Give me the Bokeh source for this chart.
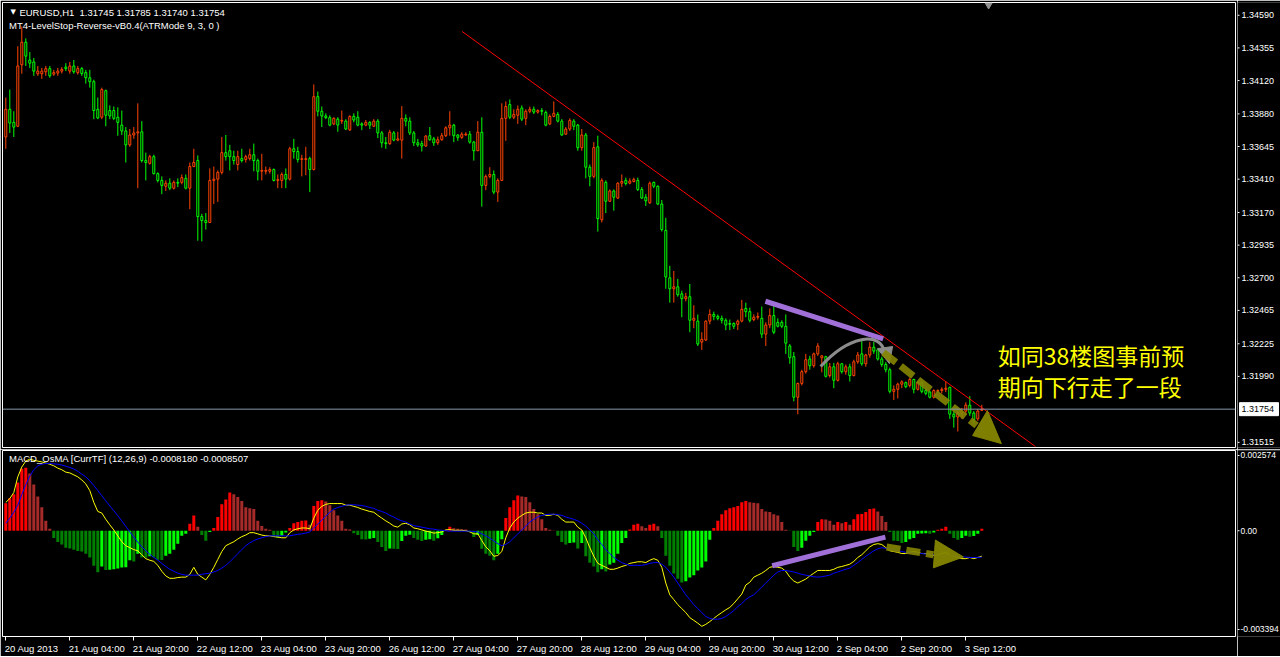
import numpy as np
from bokeh.plotting import figure
from bokeh.layouts import column, row
from bokeh.models import Range1d, FixedTicker, Span, ColumnDataSource, CustomJSTickFormatter
from bokeh.core.properties import value
from bokeh.embed import file_html
from bokeh.resources import INLINE

# ---------------- data (EURUSD H1, 20 Aug 2013 12:00 -> 3 Sep 16:00) ----------------
open_ = [
1.33714,1.33913,1.33819,1.33791,1.34234,1.34396,1.34268,1.34254,1.34169,1.34169,1.34183,1.34206,1.34166,1.34174,1.34188,1.34217,
1.34188,1.34225,1.34177,1.34206,1.34177,1.34140,1.34112,1.33913,1.33856,1.34047,1.33904,1.33904,1.33856,1.33799,1.33757,1.33657,
1.33728,1.33743,1.33751,1.33544,1.33524,1.33572,1.33450,1.33401,1.33359,1.33381,1.33345,1.33387,1.33387,1.33416,1.33345,1.33501,
1.33544,1.33141,1.33112,1.33098,1.33401,1.33410,1.33459,1.33601,1.33615,1.33572,1.33515,1.33558,1.33552,1.33558,
1.33586,1.33544,1.33467,1.33467,1.33467,1.33479,1.33401,1.33401,1.33444,1.33410,1.33629,1.33609,1.33552,1.33552,1.33558,1.33479,
1.34004,1.33899,1.33865,1.33853,1.33808,1.33842,1.33828,1.33828,1.33765,1.33862,1.33856,1.33808,1.33799,1.33819,1.33791,1.33828,
1.33743,1.33672,1.33666,1.33743,1.33691,1.33691,1.33848,1.33828,1.33743,1.33672,1.33666,1.33649,1.33723,1.33700,1.33672,1.33694,
1.33723,1.33780,1.33799,1.33728,1.33711,1.33728,1.33734,1.33677,1.33615,1.33748,1.33365,1.33430,1.33444,1.33317,
1.33401,1.33848,1.33947,1.33856,1.33870,1.33922,1.33848,1.33899,1.33913,1.33893,1.33904,1.33890,1.33808,1.33862,1.33876,1.33828,
1.33734,1.33771,1.33828,1.33799,1.33637,1.33728,1.33496,1.33430,1.33643,1.33118,1.33387,1.33251,1.33325,1.33274,1.33381,1.33401,
1.33381,1.33393,1.33401,1.33336,1.33280,1.33240,1.33387,1.33359,1.33231,1.33041,1.32700,1.32621,1.32635,1.32584,1.32550,1.32564,
1.32394,1.32388,1.32237,1.32252,1.32388,1.32436,1.32422,1.32408,1.32394,1.32371,1.32371,1.32365,1.32388,1.32479,1.32456,
1.32399,1.32416,1.32408,1.32294,1.32360,1.32428,1.32379,1.32379,1.32351,1.32209,1.32132,1.31840,1.31939,1.32024,1.32115,1.32067,
1.32152,1.32124,1.32132,1.31996,1.32059,1.31962,1.32081,1.32024,1.32059,1.31996,1.32095,1.32152,1.32081,1.32144,1.32200,1.32181,
1.32115,1.32076,1.32038,1.31882,1.31897,1.31934,1.31945,1.31925,1.31968,1.31897,1.31945,1.31888,1.31877,1.31840,1.31882,1.31888,
1.31897,1.31911,1.31718,1.31698,1.31718,1.31740,1.31783,1.31726,1.31684,1.31745]
high = [
1.33998,1.34055,1.33899,1.34367,1.34509,1.34424,1.34325,1.34282,1.34225,1.34211,1.34225,1.34225,1.34197,1.34211,1.34217,1.34245,
1.34254,1.34268,1.34225,1.34217,1.34197,1.34197,1.34126,1.33998,1.34069,1.34055,1.33941,1.33933,1.33927,1.33904,1.33785,1.33771,
1.33785,1.33956,1.33828,1.33601,1.33586,1.33586,1.33459,1.33430,1.33401,1.33416,1.33401,1.33416,1.33444,1.33444,1.33530,1.33629,
1.33581,1.33160,1.33166,1.33487,1.33501,1.33473,1.33714,1.33728,1.33657,1.33615,1.33615,1.33629,1.33586,1.33629,
1.33666,1.33558,1.33592,1.33501,1.33496,1.33487,1.33444,1.33459,1.33487,1.33643,1.33700,1.33643,1.33586,1.33643,1.33572,1.34092,
1.34041,1.33933,1.33884,1.33870,1.33856,1.33856,1.33904,1.33842,1.33870,1.33884,1.33899,1.33819,1.33836,1.33828,1.33842,1.33842,
1.33757,1.33714,1.33765,1.33757,1.33751,1.33936,1.33876,1.33856,1.33757,1.33700,1.33686,1.33728,1.33785,1.33714,1.33717,1.33743,
1.33791,1.33899,1.33808,1.33734,1.33748,1.33748,1.33757,1.33686,1.33828,1.33856,1.33444,1.33496,1.33473,1.33416,
1.33956,1.33970,1.33984,1.33913,1.33941,1.33941,1.33913,1.33933,1.33933,1.33913,1.33922,1.33904,1.33876,1.33970,1.33893,1.33842,
1.33785,1.33848,1.33842,1.33808,1.33771,1.33743,1.33515,1.33677,1.33723,1.33416,1.33401,1.33336,1.33336,1.33387,1.33444,1.33421,
1.33416,1.33421,1.33421,1.33353,1.33302,1.33393,1.33393,1.33365,1.33260,1.33132,1.32786,1.32749,1.32692,1.32607,1.32592,1.32655,
1.32502,1.32436,1.32308,1.32394,1.32473,1.32456,1.32436,1.32428,1.32408,1.32399,1.32379,1.32399,1.32541,1.32521,1.32485,
1.32436,1.32450,1.32493,1.32379,1.32479,1.32507,1.32408,1.32394,1.32436,1.32223,1.32166,1.31945,1.32038,1.32152,1.32138,1.32161,
1.32229,1.32144,1.32138,1.32087,1.32087,1.32095,1.32087,1.32076,1.32081,1.32110,1.32166,1.32257,1.32152,1.32237,1.32237,1.32189,
1.32132,1.32093,1.32053,1.31925,1.31945,1.31962,1.31953,1.31982,1.31973,1.31956,1.31956,1.31905,1.31888,1.31897,1.31897,1.31911,
1.31953,1.31916,1.31740,1.31740,1.31763,1.31803,1.31848,1.31740,1.31755,1.31785]
low = [
1.33629,1.33743,1.33714,1.33785,1.34169,1.34225,1.34211,1.34154,1.34154,1.34132,1.34154,1.34140,1.34154,1.34154,1.34171,1.34188,
1.34169,1.34169,1.34163,1.34154,1.34098,1.34069,1.33842,1.33842,1.33842,1.33791,1.33842,1.33836,1.33723,1.33728,1.33530,1.33643,
1.33700,1.33345,1.33530,1.33401,1.33515,1.33444,1.33387,1.33302,1.33325,1.33331,1.33336,1.33353,1.33373,1.33336,1.33194,1.33496,
1.32967,1.32962,1.33047,1.33098,1.33231,1.33246,1.33444,1.33544,1.33473,1.33515,1.33473,1.33530,1.33530,1.33544,
1.33467,1.33401,1.33401,1.33444,1.33450,1.33393,1.33345,1.33345,1.33345,1.33401,1.33558,1.33530,1.33430,1.33439,1.33317,1.33473,
1.33862,1.33785,1.33842,1.33791,1.33799,1.33751,1.33808,1.33763,1.33757,1.33819,1.33791,1.33763,1.33791,1.33771,1.33785,1.33706,
1.33637,1.33629,1.33657,1.33683,1.33683,1.33558,1.33791,1.33728,1.33649,1.33643,1.33609,1.33643,1.33686,1.33649,1.33657,1.33686,
1.33714,1.33723,1.33677,1.33686,1.33700,1.33723,1.33666,1.33544,1.33615,1.33212,1.33331,1.33416,1.33302,1.33246,
1.33401,1.33686,1.33842,1.33842,1.33808,1.33828,1.33799,1.33884,1.33879,1.33882,1.33870,1.33791,1.33799,1.33856,1.33819,1.33723,
1.33728,1.33757,1.33763,1.33615,1.33615,1.33416,1.33359,1.33416,1.33033,1.33098,1.33166,1.33246,1.33183,1.33268,1.33353,1.33365,
1.33373,1.33387,1.33325,1.33268,1.33217,1.33231,1.33345,1.33223,1.33033,1.32621,1.32521,1.32521,1.32564,1.32416,1.32530,1.32308,
1.32337,1.32209,1.32181,1.32246,1.32365,1.32394,1.32394,1.32371,1.32323,1.32323,1.32331,1.32323,1.32379,1.32416,1.32379,
1.32388,1.32399,1.32266,1.32209,1.32337,1.32294,1.32343,1.32337,1.32152,1.32081,1.31811,1.31717,1.31925,1.32010,1.32038,1.32053,
1.32138,1.32019,1.31982,1.31982,1.31905,1.31953,1.32010,1.32002,1.31953,1.31990,1.32081,1.32067,1.32059,1.32124,1.32152,1.32104,
1.32059,1.32019,1.31868,1.31820,1.31831,1.31905,1.31905,1.31911,1.31868,1.31888,1.31868,1.31854,1.31831,1.31831,1.31877,1.31868,
1.31877,1.31684,1.31621,1.31593,1.31684,1.31712,1.31706,1.31650,1.31670,1.31740]
close = [
1.33913,1.33814,1.33785,1.34225,1.34396,1.34296,1.34245,1.34188,1.34188,1.34188,1.34206,1.34154,1.34177,1.34188,1.34200,1.34206,
1.34225,1.34183,1.34206,1.34171,1.34140,1.34112,1.33904,1.33851,1.34055,1.33870,1.33865,1.33848,1.33819,1.33757,1.33657,1.33728,
1.33743,1.33751,1.33544,1.33530,1.33572,1.33450,1.33401,1.33365,1.33381,1.33345,1.33387,1.33381,1.33421,1.33345,1.33501,1.33530,
1.33141,1.33112,1.33098,1.33401,1.33410,1.33459,1.33601,1.33572,1.33572,1.33544,1.33572,1.33544,1.33572,1.33586,
1.33544,1.33467,1.33473,1.33473,1.33479,1.33401,1.33407,1.33444,1.33410,1.33629,1.33609,1.33552,1.33558,1.33558,1.33479,1.34004,
1.33899,1.33865,1.33853,1.33799,1.33848,1.33799,1.33833,1.33771,1.33862,1.33836,1.33799,1.33799,1.33819,1.33799,1.33828,1.33743,
1.33672,1.33666,1.33748,1.33691,1.33700,1.33848,1.33828,1.33743,1.33672,1.33657,1.33649,1.33720,1.33694,1.33672,1.33694,1.33723,
1.33780,1.33799,1.33723,1.33711,1.33734,1.33734,1.33677,1.33615,1.33748,1.33365,1.33430,1.33444,1.33317,1.33401,
1.33848,1.33933,1.33856,1.33876,1.33913,1.33842,1.33899,1.33913,1.33893,1.33904,1.33899,1.33799,1.33862,1.33884,1.33828,1.33728,
1.33771,1.33833,1.33791,1.33637,1.33728,1.33496,1.33430,1.33637,1.33126,1.33401,1.33251,1.33325,1.33280,1.33381,1.33393,1.33379,
1.33396,1.33407,1.33336,1.33274,1.33254,1.33381,1.33359,1.33231,1.33047,1.32706,1.32621,1.32635,1.32578,1.32550,1.32564,1.32394,
1.32408,1.32223,1.32257,1.32388,1.32436,1.32422,1.32408,1.32394,1.32360,1.32365,1.32351,1.32388,1.32473,1.32456,1.32394,
1.32416,1.32422,1.32294,1.32360,1.32428,1.32308,1.32351,1.32351,1.32229,1.32124,1.31840,1.31939,1.32024,1.32110,1.32067,1.32152,
1.32209,1.32138,1.31990,1.32059,1.31962,1.32081,1.32024,1.32059,1.31996,1.32095,1.32144,1.32081,1.32144,1.32200,1.32172,1.32115,
1.32076,1.32038,1.31882,1.31897,1.31934,1.31951,1.31916,1.31968,1.31897,1.31945,1.31882,1.31868,1.31840,1.31888,1.31888,1.31897,
1.31905,1.31718,1.31698,1.31726,1.31740,1.31783,1.31726,1.31678,1.31740,1.31754]

# MACD_OsMA(12,26,9) values in units of 1e-6
osma_e6 = [
880,1040,1170,1550,1990,2020,1840,1480,1100,750,320,60,-230,-360,-440,-550,-570,-610,-650,-670,-740,-860,-1120,-1330,-1150,
-1260,-1250,-1240,-1210,-1180,-1170,-950,-990,-740,-860,-870,-820,-860,-930,-940,-800,-740,-610,-420,-160,-100,220,490,130,
-140,-320,-40,90,440,850,1000,1230,1170,1080,950,750,720,
700,320,150,60,30,-160,-230,-160,-60,90,240,280,320,330,190,790,950,980,940,820,660,490,320,60,40,-80,-140,-270,-280,-260,
-230,-360,-520,-650,-570,-580,-590,-330,-160,-130,-230,-290,-330,-290,-270,-320,-240,-140,30,130,80,60,50,40,-40,-200,-140,
-580,-740,-800,-950,-740,
-270,410,750,980,1130,1100,1080,910,700,530,370,90,30,10,-160,-360,-440,-390,-380,-570,-390,-820,-1030,-1150,-1330,-1240,
-1310,-1080,-1030,-740,-390,-230,40,190,220,140,90,190,220,140,-230,-800,-1120,-1370,-1540,-1660,-1620,-1500,-1430,-1280,
-1180,-990,-290,90,320,530,660,720,750,790,910,950,910,
900,880,700,620,600,530,490,280,30,-10,-520,-650,-550,-320,-160,-40,280,370,360,320,190,280,240,280,190,370,530,540,600,700,
710,620,470,280,-40,-320,-330,-390,-360,-270,-230,-100,-90,-80,-100,-60,30,60,130,-100,-230,-290,-230,-160,-190,-170,-100,60]
macd_e6 = [
909,1035,1224,1729,2044,2234,2297,2259,2234,2209,2171,2133,2082,2007,1956,1880,1855,1792,1729,1628,1502,1287,909,618,568,366,
189,25,-164,-353,-480,-543,-606,-644,-770,-896,-947,-984,-1111,-1300,-1451,-1527,-1527,-1502,-1489,-1489,-1401,-1174,-1401,
-1489,-1578,-1401,-1174,-921,-669,-480,-416,-353,-265,-189,-139,-63,
-63,-101,-139,-164,-164,-189,-202,-227,-227,-63,25,63,88,88,63,404,656,782,846,871,871,871,871,820,820,782,745,694,656,618,
593,492,404,316,240,151,114,215,240,189,88,63,25,-13,-38,-76,-63,-38,25,38,13,13,13,0,-38,-101,-101,-316,-517,-644,-820,-795,
-669,-227,88,278,404,492,568,593,593,568,568,492,492,530,492,366,278,278,278,114,25,-227,-543,-820,-1047,-1111,-1174,-1237,
-1237,-1199,-1148,-1111,-1047,-1022,-997,-997,-1022,-947,-896,-947,-1174,-1678,-2057,-2209,-2373,-2499,-2625,-2789,-2877,
-2966,-3067,-3004,-2915,-2814,-2713,-2625,-2537,-2461,-2335,-2183,-2032,-1742,-1653,
-1489,-1426,-1363,-1275,-1174,-1148,-1174,-1199,-1300,-1489,-1615,-1678,-1615,-1552,-1451,-1363,-1275,-1275,-1275,-1275,
-1237,-1174,-1148,-1111,-1073,-984,-858,-770,-644,-517,-442,-416,-442,-543,-644,-669,-694,-732,-732,-694,-669,-694,-732,
-732,-770,-795,-770,-732,-694,-790,-820,-858,-896,-896,-858,-896,-858,-818]
signal_e6 = [
240,404,593,820,1161,1477,1754,1956,2082,2133,2158,2158,2145,2133,2108,2070,2032,1981,1906,1817,1729,1603,1451,1287,1123,
959,795,644,480,316,139,-38,-202,-366,-517,-644,-757,-858,-947,-1047,-1148,-1237,-1300,-1363,-1401,-1426,-1426,-1426,-1426,
-1401,-1376,-1363,-1325,-1275,-1199,-1111,-997,-871,-732,-606,-480,-391,
-316,-265,-227,-189,-164,-164,-164,-164,-164,-164,-139,-114,-101,-76,-38,88,215,341,467,593,694,745,782,820,833,833,820,808,
782,745,719,656,618,568,492,442,366,316,278,215,164,139,114,88,63,50,25,13,0,-13,-13,-13,-13,-13,-13,-25,-38,-101,-164,-240,
-328,-416,
-480,-442,-353,-227,-101,25,151,278,366,442,492,517,530,530,517,492,442,404,366,316,240,151,25,-101,-290,-442,-606,-732,-858,
-947,-1022,-1073,-1111,-1111,-1111,-1111,-1085,-1047,-1022,-1022,-1073,-1174,-1325,-1489,-1678,-1868,-2057,-2209,-2373,-2499,
-2625,-2751,-2814,-2840,-2840,-2814,-2751,-2663,-2562,-2436,-2335,-2209,-2120,
-2057,-1931,-1805,-1678,-1552,-1426,-1325,-1275,-1275,-1300,-1325,-1363,-1401,-1426,-1451,-1477,-1489,-1477,-1451,-1426,
-1363,-1325,-1275,-1237,-1199,-1111,-1022,-921,-820,-732,-644,-581,-543,-568,-593,-618,-644,-669,-694,-694,-707,-719,-732,
-745,-757,-770,-782,-795,-795,-795,-808,-820,-833,-846,-858,-858,-858,-851]

time_labels = ["20 Aug 2013", "21 Aug 04:00", "21 Aug 20:00", "22 Aug 12:00", "23 Aug 04:00", "23 Aug 20:00",
               "26 Aug 12:00", "27 Aug 04:00", "27 Aug 20:00", "28 Aug 12:00", "29 Aug 04:00", "29 Aug 20:00",
               "30 Aug 12:00", "2 Sep 04:00", "2 Sep 20:00", "3 Sep 12:00"]
time_label_bars = [0, 16, 32, 48, 64, 80, 96, 112, 128, 144, 160, 176, 192, 208, 224, 240]
price_ticks = [1.34590, 1.34355, 1.34120, 1.33880, 1.33645, 1.33410, 1.33170, 1.32935, 1.32700,
               1.32465, 1.32225, 1.31990, 1.31515]
last_price = 1.31754
macd_axis_labels = ["0.002574", "0.00", "-0.003394"]
title_text = "EURUSD,H1\u00a0\u00a01.31745 1.31785 1.31740 1.31754"
indicator_text = "MT4-LevelStop-Reverse-vB0.4(ATRMode 9, 3, 0 )"
macd_text = "MACD_OsMA [CurrTF] (12,26,9) -0.0008180 -0.0008507"
note_lines = ["如同38楼图事前预", "期向下行走了一段"]

# ---------------- layout constants ----------------
FONT = "Liberation Sans"
ORANGE = "#FF4500"
LIME = "#00FF00"
PURPLE = "#A070D8"
OLIVE = "#858500"
MAIN_W, SIDE_W = 1237, 43
TOP_H, BOT_H = 449, 207
X0, X1 = -0.825, 307.425
FRAME_W = MAIN_W - 4
PX_PER_BAR = FRAME_W / (X1 - X0)

o = np.array(open_); h = np.array(high); l = np.array(low); c = np.array(close)
n = len(c)
x = np.arange(n)
ccol = np.where(c > o, ORANGE, LIME)

xr = Range1d(X0, X1)
yr_price = Range1d(1.31478, 1.34682)
yr_macd = Range1d(-0.003394, 0.002574)

base = dict(output_backend="svg", toolbar_location=None, background_fill_color="black",
            border_fill_color="black")

# ---------------- price panel ----------------
pA = figure(width=MAIN_W, height=TOP_H, x_range=xr, y_range=yr_price, x_axis_location=None,
            y_axis_location=None, min_border_left=2, min_border_right=2, min_border_top=2,
            min_border_bottom=2, outline_line_color="white", outline_line_width=1, **base)
pA.grid.visible = False

src = ColumnDataSource(dict(x=x, h=h, l=l, top=np.maximum(o, c), bot=np.minimum(o, c), col=ccol))
pA.segment(x0="x", y0="h", x1="x", y1="l", line_color="col", line_width=1, source=src)
pA.vbar(x="x", width=0.5, top="top", bottom="bot", fill_color="black", line_color="col", line_width=1, source=src)

pA.add_layout(Span(location=last_price, dimension="width", line_color="#8899AA", line_width=1))
pA.line([114.1, 257.4], [1.34473, 1.31485], line_color="#FF0000", line_width=1)

pA.line([189.9, 219.35], [1.32531, 1.32260], line_color=PURPLE, line_width=5)
pA.bezier(x0=[203.7], y0=[1.32061], x1=[219.7], y1=[1.32162], cx0=[210.7], cy0=[1.32284],
          cx1=[218.7], cy1=[1.32320], line_color="#8C8C8C", line_width=3)
pA.patch([217.9, 221.7, 220.9], [1.32190, 1.32205, 1.32082], color="#8C8C8C")
pA.line([219.4, 242.7], [1.32162, 1.31636], line_color=OLIVE, line_width=7, line_dash="16 6", line_alpha=0.9)
pA.patch([241.7, 245.4, 248.9], [1.31564, 1.31744, 1.31506], color=OLIVE, alpha=0.95)
pA.scatter([245.7], [1.34664], marker="inverted_triangle", size=7, color="#909090")

pA.text(x=[1.2], y=[1.34612], text=["\u25bc"], text_color="white", text_font=value("DejaVu Sans"),
        text_font_size=value("7px"), text_baseline="middle", text_align="left")
pA.text(x=[3.4], y=[1.34610], text=[title_text], text_color="white", text_font=value(FONT),
        text_font_size=value("9.5px"), text_baseline="middle", text_align="left")
pA.text(x=[0.8], y=[1.34516], text=[indicator_text], text_color="white", text_font=value(FONT),
        text_font_size=value("9.5px"), text_baseline="middle", text_align="left")
pA.text(x=[248.0, 248.0], y=[1.32144, 1.31921], text=note_lines, text_color="#FFFF00",
        text_font=value("Noto Sans CJK SC"), text_font_size=value("23px"),
        text_baseline="middle", text_align="left")

# price scale (right side)
sA = figure(width=SIDE_W, height=TOP_H, x_range=Range1d(0, SIDE_W), y_range=yr_price,
            x_axis_location=None, y_axis_location=None, min_border_left=0, min_border_right=0,
            min_border_top=2, min_border_bottom=2, outline_line_color=None, **base)
sA.grid.visible = False
sA.segment(x0=[0] * len(price_ticks), y0=price_ticks, x1=[2] * len(price_ticks), y1=price_ticks,
           line_color="white", line_width=1)
sA.text(x=[4] * len(price_ticks), y=price_ticks, text=[f"{v:.5f}" for v in price_ticks],
        text_color="white", text_font=value(FONT), text_font_size=value("9px"),
        text_baseline="middle", text_align="left")
sA.rect(x=[21.5], y=[last_price], width=39, height=13, height_units="screen",
        fill_color="white", line_color="white")
sA.text(x=[4], y=[last_price], text=[f"{last_price:.5f}"], text_color="black", text_font=value(FONT),
        text_font_size=value("9px"), text_baseline="middle", text_align="left")

# ---------------- MACD panel ----------------
pB = figure(width=MAIN_W, height=BOT_H, x_range=xr, y_range=yr_macd, y_axis_location=None,
            min_border_left=2, min_border_right=2, min_border_top=1, min_border_bottom=20,
            outline_line_color="white", outline_line_width=1, **base)
pB.grid.visible = False

def label_width(s, size=9.5):
    em = {" ": 0.278, ":": 0.278, "A": 0.667, "S": 0.667}
    return sum(em.get(ch, 0.556) for ch in s) * size

shifted = [b + (label_width(t) / 2 - 1) / PX_PER_BAR for b, t in zip(time_label_bars, time_labels)]
xa = pB.xaxis[0]
xa.ticker = FixedTicker(ticks=shifted, minor_ticks=time_label_bars)
xa.formatter = CustomJSTickFormatter(args=dict(labels=time_labels), code="return labels[index] || '';")
xa.axis_line_color = None
xa.major_tick_line_color = None
xa.major_tick_out = 0
xa.major_tick_in = 0
xa.minor_tick_line_color = "white"
xa.minor_tick_out = 4
xa.minor_tick_in = 0
xa.major_label_standoff = 2
xa.major_label_text_color = "white"
xa.major_label_text_font = FONT
xa.major_label_text_font_size = "9.5px"

hv = np.array(osma_e6) * 1e-6
prev = np.concatenate([[hv[0] - 1e-9], hv[:-1]])
rising = hv >= prev
hcol = np.where(hv >= 0, np.where(rising, "#FF0000", "#A52A2A"), np.where(rising, "#00FF00", "#008000"))
pB.vbar(x=x, width=0.75, top=hv, bottom=0, fill_color=hcol, line_color=None)
pB.line(x, np.array(macd_e6) * 1e-6, line_color="#FFFF00", line_width=1)
pB.line(x, np.array(signal_e6) * 1e-6, line_color="#0000FF", line_width=1)

pB.line([191.6, 219.9], [-0.001125, -0.000203], line_color=PURPLE, line_width=5)
pB.line([220.2, 231.9], [-0.00052, -0.00077], line_color=OLIVE, line_width=7, line_dash="14 6", line_alpha=0.9)
pB.patch([231.9, 232.4, 239.4], [-0.001192, -0.000298, -0.000841], color=OLIVE, alpha=0.95)
pB.text(x=[0.8], y=[0.002317], text=[macd_text], text_color="white", text_font=value(FONT),
        text_font_size=value("9.5px"), text_baseline="middle", text_align="left")

# MACD scale (right side)
macd_tick_pos = [0.002414, 0.0, -0.003169]
sB = figure(width=SIDE_W, height=BOT_H, x_range=Range1d(0, SIDE_W), y_range=yr_macd,
            x_axis_location=None, y_axis_location=None, min_border_left=0, min_border_right=0,
            min_border_top=1, min_border_bottom=20, outline_line_color=None, **base)
sB.grid.visible = False
sB.segment(x0=[0] * 3, y0=macd_tick_pos, x1=[2] * 3, y1=macd_tick_pos, line_color="white", line_width=1)
sB.text(x=[3] * 3, y=macd_tick_pos, text=macd_axis_labels, text_color="white", text_font=value(FONT),
        text_font_size=value("8.5px"), text_baseline="middle", text_align="left")

layout = row(column(pA, pB, spacing=0), column(sA, sB, spacing=0), spacing=0)
open("out.html", "w").write(file_html(layout, INLINE, title="EURUSD H1"))
